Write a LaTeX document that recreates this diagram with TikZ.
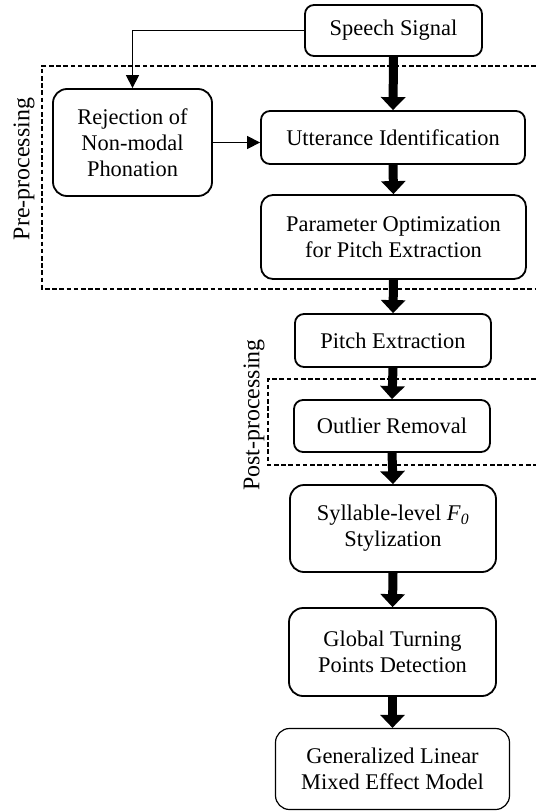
\documentclass[tikz,border=0pt]{standalone}
\usepackage{fontspec}
\setmainfont{Liberation Serif}
\usetikzlibrary{arrows.meta}
\begin{document}
\begin{tikzpicture}[x=1bp,y=-1bp,
  box/.style={draw,line width=1.8bp,rounded corners=9bp,align=center,inner sep=0pt,
    font=\fontsize{22.5}{26}\selectfont},
  bigarrow/.style={line width=9bp,-{Triangle[width=24bp,length=13bp]}},
  thinarrow/.style={line width=1.3bp,-{Triangle[width=13bp,length=13bp]}},
  group/.style={draw,dash pattern=on 4.6bp off 2.6bp,line width=1.3bp},
  grouplabel/.style={rotate=90,inner sep=0pt,font=\fontsize{24}{28}\selectfont}]
\useasboundingbox (0,0) rectangle (536,812);
% groups
\draw[group] (536,66) -- (42,66) -- (42,289) -- (536,289);
\draw[group] (536,379) -- (268,379) -- (268,465) -- (536,465);
\node[grouplabel] (prelab) at (24,169) {Pre-processing};
\node[grouplabel] (postlab) at (254,415) {Post-processing};
% boxes
\node[box,minimum width=177bp,minimum height=51bp] (speech) at (393.5,30.5) {Speech Signal};
\node[box,rounded corners=14bp,minimum width=159bp,minimum height=107bp] (rej) at (132.5,142.5) {Rejection of\\Non-modal\\Phonation};
\node[box,minimum width=264bp,minimum height=53bp] (utt) at (393,137.5) {Utterance Identification};
\node[box,rounded corners=12bp,minimum width=265bp,minimum height=84bp] (param) at (393.5,237) {Parameter Optimization\\for Pitch Extraction};
\node[box,minimum width=196bp,minimum height=53bp] (pitch) at (393,340.5) {Pitch Extraction};
\node[box,minimum width=196bp,minimum height=52bp] (outl) at (392,426) {Outlier Removal};
\node[box,rounded corners=14bp,minimum width=206bp,minimum height=87bp] (syl) at (393,528.5) {Syllable-level \textit{F}\textsubscript{\textit{0}}\\Stylization};
\node[box,rounded corners=14bp,minimum width=207bp,minimum height=88bp] (glob) at (392.5,652) {Global Turning\\Points Detection};
\node[box,line width=1.2bp,rounded corners=14bp,minimum width=234bp,minimum height=81bp] (glmm) at (392.5,769) {Generalized Linear\\Mixed Effect Model};
% connectors
\draw[bigarrow] (speech.south) -- (utt.north);
\draw[bigarrow] (utt.south) -- (param.north);
\draw[bigarrow] (param.south) -- (pitch.north);
\draw[bigarrow] (pitch.south) -- (outl.north);
\draw[bigarrow] (outl.south) -- (syl.north);
\draw[bigarrow] (syl.south) -- (glob.north);
\draw[bigarrow] (glob.south) -- (glmm.north);
\draw[thinarrow] (speech.west) -| (rej.north);
\draw[thinarrow] (rej.east) -- (rej.east -| utt.west);
\end{tikzpicture}
\end{document}
